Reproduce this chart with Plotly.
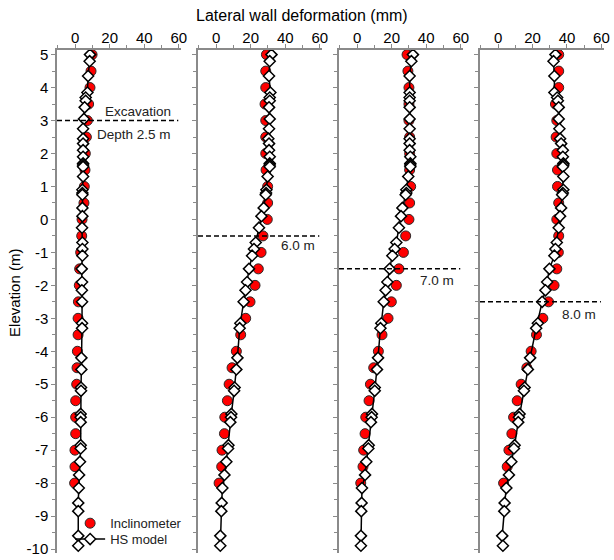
import plotly.graph_objects as go

# ---------------- data ----------------
inc_elev = [5.0, 4.5, 4.0, 3.5, 3.0, 2.5, 2.0, 1.5, 1.0, 0.5, 0.0, -0.5, -1.0, -1.5,
            -2.0, -2.5, -3.0, -3.5, -4.0, -4.5, -5.0, -5.5, -6.0, -6.5, -7.0, -7.5, -8.0]

hs_elev = [5.0, 4.8, 4.35, 3.85, 3.7, 3.6, 3.4, 3.05, 2.75, 2.45, 2.3, 2.1, 1.9, 1.7,
           1.65, 1.6, 1.3, 0.9, 0.8, 0.75, 0.35, 0.1, -0.25, -0.7, -0.9, -1.1, -1.5,
           -1.9, -2.15, -2.5, -3.15, -3.3, -4.2, -4.55, -5.1, -5.2, -5.9, -6.0, -6.15,
           -6.85, -6.95, -7.35, -7.75, -8.15, -8.6, -8.85, -9.6, -9.9]

# Inclinometer readings (mm), stages 1-4
inc_stage1 = [9.8, 9.2, 8.6, 7.8, 7.1, 6.5, 5.9, 5.7, 5.3, 5.1, 4.0, 3.8, 3.2, 2.6,
              2.4, 1.9, 1.7, 1.7, 1.3, 1.1, 0.9, 0.3, 0.3, 0.3, -0.1, -0.1, -0.3]
inc_stage2 = [29.1, 28.7, 28.7, 28.3, 28.7, 28.7, 28.7, 28.9, 29.8, 29.8, 29.6, 27.1, 26.0, 24.4,
              22.5, 19.6, 17.1, 14.2, 11.7, 9.2, 7.5, 6.5, 5.0, 4.8, 3.4, 3.2, 1.7]
inc_stage3 = [28.9, 29.4, 30.0, 30.0, 30.0, 30.4, 30.4, 30.4, 31.0, 30.4, 30.0, 28.1, 26.8, 24.2,
              22.7, 19.8, 17.9, 14.4, 12.3, 9.6, 7.7, 6.9, 5.0, 4.6, 3.8, 3.4, 2.1]
inc_stage4 = [35.2, 35.2, 35.2, 33.3, 34.1, 33.7, 34.1, 34.5, 34.5, 35.2, 34.1, 35.2, 35.0, 34.1,
              32.5, 29.3, 26.0, 22.3, 19.2, 16.7, 13.4, 11.1, 9.0, 8.0, 6.3, 5.3, 3.2]

# HS model results (mm), stages 1-4
hs_stage1 = [8.6, 8.4, 7.5, 7.1, 6.1, 6.1, 5.5, 5.1, 4.6, 4.6, 4.6, 4.6, 4.6, 4.6,
             4.6, 4.6, 4.6, 4.2, 4.2, 4.2, 4.2, 4.2, 4.0, 4.2, 4.2, 4.2, 3.8,
             4.0, 3.9, 4.0, 4.0, 4.0, 3.6, 3.6, 3.4, 3.4, 3.2, 3.2, 3.2,
             3.2, 3.2, 2.8, 2.3, 2.1, 1.8, 1.8, 1.8, 1.8]
hs_stage2 = [32.0, 31.0, 30.6, 31.4, 31.0, 31.0, 30.6, 31.0, 30.6, 30.2, 30.6, 30.6, 31.0, 31.0,
             31.0, 31.0, 29.8, 29.1, 28.9, 28.7, 27.5, 26.2, 24.8, 22.9, 21.9, 20.8, 19.0,
             17.9, 17.0, 15.9, 14.0, 13.6, 12.3, 11.7, 10.7, 10.4, 8.8, 8.6, 8.2,
             7.1, 6.9, 5.9, 4.8, 3.6, 3.2, 3.0, 2.4, 2.4]
hs_stage3 = [32.3, 31.4, 30.4, 30.4, 30.4, 30.4, 30.4, 30.4, 30.4, 30.4, 30.4, 30.4, 30.8, 30.8,
             30.8, 30.8, 29.6, 28.5, 28.5, 28.1, 26.2, 25.4, 24.2, 22.7, 21.7, 20.4, 18.8,
             17.5, 16.5, 15.4, 14.0, 13.5, 12.1, 11.5, 10.2, 10.2, 8.6, 8.4, 8.0,
             6.7, 6.5, 5.3, 4.6, 2.8, 2.6, 2.4, 2.2, 2.2]
hs_stage4 = [33.3, 32.2, 32.7, 32.7, 34.3, 34.7, 35.2, 35.2, 35.6, 36.0, 36.6, 37.6, 37.6, 37.9,
             37.9, 37.6, 37.9, 37.9, 37.6, 37.2, 36.6, 36.0, 35.2, 34.1, 33.3, 32.7, 29.8,
             28.5, 27.5, 25.6, 23.1, 22.1, 18.6, 17.3, 15.4, 15.0, 12.5, 12.1, 11.7,
             9.6, 9.2, 7.7, 6.3, 4.8, 3.8, 3.6, 2.4, 2.8]

exc_elev = [3.0, -0.5, -1.5, -2.5]
exc_labels = ["6.0 m", "7.0 m", "8.0 m"]

x_ticks = [0, 20, 40, 60]
y_ticks = [5, 4, 3, 2, 1, 0, -1, -2, -3, -4, -5, -6, -7, -8, -9, -10]

inc_all = [inc_stage1, inc_stage2, inc_stage3, inc_stage4]
hs_all = [hs_stage1, hs_stage2, hs_stage3, hs_stage4]

# ---------------- figure ----------------
FONT = "Liberation Sans, Arial, sans-serif"
AXC = "#8a8a8a"
domains = [[0.0, 0.2274], [0.2578, 0.4852], [0.5155, 0.7429], [0.7733, 1.0]]

fig = go.Figure()
for i in range(4):
    xa = "x" if i == 0 else f"x{i+1}"
    ya = "y" if i == 0 else f"y{i+1}"
    fig.add_trace(go.Scatter(
        x=inc_all[i], y=inc_elev, mode="markers", name="Inclinometer",
        marker=dict(symbol="circle", size=10, color="#ff0000",
                    line=dict(color="#2a2a2a", width=1)),
        showlegend=(i == 0), legend="legend", xaxis=xa, yaxis=ya))
    fig.add_trace(go.Scatter(
        x=hs_all[i], y=hs_elev, mode="lines+markers", name="HS model",
        line=dict(color="black", width=1.5),
        marker=dict(symbol="diamond", size=8.5, color="white",
                    line=dict(color="black", width=1.5)),
        showlegend=(i == 0), legend="legend2", xaxis=xa, yaxis=ya))

    xkey = "xaxis" if i == 0 else f"xaxis{i+1}"
    ykey = "yaxis" if i == 0 else f"yaxis{i+1}"
    fig.layout[xkey] = dict(
        domain=domains[i], range=[-10.5, 61.5], side="top", anchor=ya,
        showline=True, linecolor=AXC, linewidth=1.5, showgrid=False, zeroline=False,
        tickmode="array", tickvals=x_ticks, ticktext=[str(v) for v in x_ticks],
        ticks="outside", ticklen=4, tickcolor=AXC, tickwidth=1,
        ticklabelstandoff=-5,
        minor=dict(dtick=10, tick0=0, ticks="outside", ticklen=3, tickcolor=AXC, showgrid=False),
        tickfont=dict(family=FONT, size=15, color="black"))
    fig.layout[ykey] = dict(
        domain=[0, 1], range=[-10.12, 5.14], anchor=xa,
        showline=True, linecolor=AXC, linewidth=1.5, showgrid=False, zeroline=False,
        tickmode="array", tickvals=y_ticks, ticktext=[str(v) for v in y_ticks],
        showticklabels=(i == 0), ticklabeloverflow="allow",
        ticks="outside", ticklen=4, tickcolor=AXC, tickwidth=1,
        minor=dict(dtick=0.5, tick0=0, ticks="outside", ticklen=3, tickcolor=AXC, showgrid=False),
        tickfont=dict(family=FONT, size=15, color="black"))

    # excavation level
    fig.add_shape(type="line", xref=f"{xa} domain", yref=ya, x0=0, x1=0.975,
                  y0=exc_elev[i], y1=exc_elev[i],
                  line=dict(color="black", width=1.5, dash="5px,3px"))

annots = [
    dict(text="Excavation", xref="x", yref="y", x=56.4, y=3.28, xanchor="right", yanchor="middle"),
    dict(text="Depth 2.5 m", xref="x", yref="y", x=56.4, y=2.58, xanchor="right", yanchor="middle"),
    dict(text=exc_labels[0], xref="x2", yref="y2", x=47.2, y=-0.78, xanchor="center", yanchor="middle"),
    dict(text=exc_labels[1], xref="x3", yref="y3", x=46.0, y=-1.865, xanchor="center", yanchor="middle"),
    dict(text=exc_labels[2], xref="x4", yref="y4", x=46.9, y=-2.87, xanchor="center", yanchor="middle"),
]
for a in annots:
    a.update(showarrow=False, font=dict(family=FONT, size=13.5, color="#222222"))
    fig.add_annotation(**a)

fig.add_annotation(text="Lateral wall deformation (mm)", xref="paper", yref="paper",
                   x=0.448, y=1.069, xanchor="center", yanchor="middle", showarrow=False,
                   font=dict(family=FONT, size=16, color="black"))
fig.add_annotation(text="Elevation (m)", xref="paper", yref="paper", textangle=-90,
                   x=-0.0768, y=0.517, xanchor="center", yanchor="middle", showarrow=False,
                   font=dict(family=FONT, size=15, color="black"))

leg_common = dict(xanchor="left", yanchor="middle", bgcolor="rgba(0,0,0,0)",
                  borderwidth=0, itemwidth=30,
                  font=dict(family=FONT, size=13, color="#222222"))
fig.update_layout(
    width=614, height=560,
    margin=dict(l=57, r=10, t=50, b=3),
    paper_bgcolor="white", plot_bgcolor="white",
    legend=dict(x=0.024, y=0.0592, **leg_common),
    legend2=dict(x=0.024, y=0.0276, **leg_common),
)

fig.write_html("out.html")
